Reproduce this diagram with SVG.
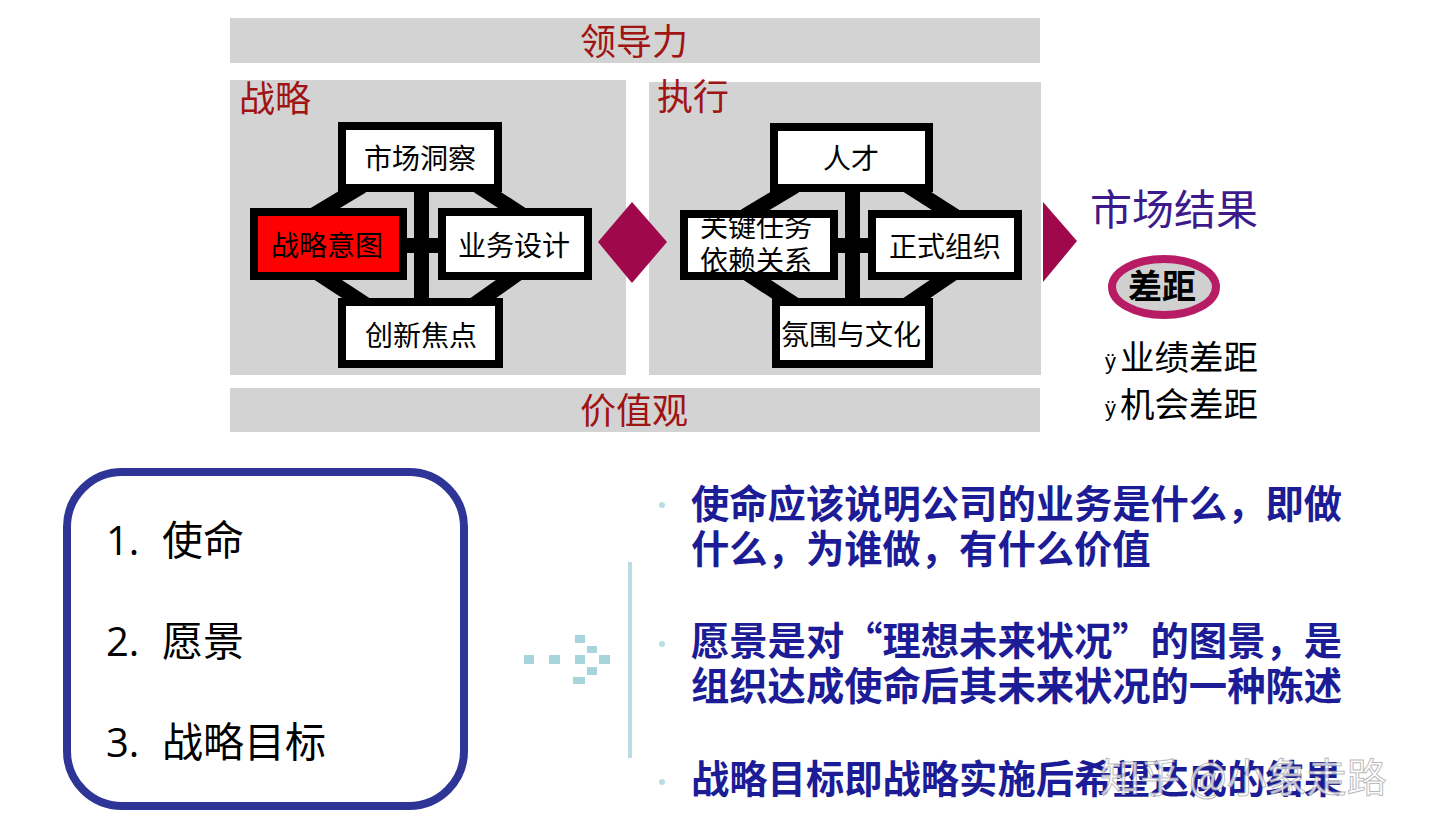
<svg xmlns="http://www.w3.org/2000/svg" width="1440" height="834" viewBox="0 0 1440 834">
<style>
  .cjk { font-family: "Noto Sans CJK SC", "Liberation Sans", sans-serif; }
  .bar { fill: #d3d3d3; }
  .panel { fill: #d3d3d3; }
  .red { fill: #a01414; font-size: 36px; }
  .box { fill: #ffffff; stroke: #000000; stroke-width: 8; }
  .boxred { fill: #ff0000; stroke: #000000; stroke-width: 8; }
  .bl { fill: #000000; font-size: 28px; text-anchor: middle; dominant-baseline: central; }
  .link { stroke: #000000; stroke-width: 15; fill: none; }
  .mag { fill: #a0084c; }
  .dot { fill: #a8d4dc; }
  .bul { fill: #1c1c96; font-size: 38.3px; font-weight: bold; }
  .bdot { fill: #b9dde3; }
  .lst { fill: #000000; font-size: 41px; }
  .num { font-family: "Open Sans", "Liberation Sans", sans-serif; font-size: 40px; fill: #000000; }
</style>
<defs>
  <clipPath id="clipKT"><rect x="688" y="218" width="142" height="54"/></clipPath>
</defs>
<rect width="1440" height="834" fill="#ffffff"/>

<g id="leadership">
  <rect class="bar" x="230" y="18" width="810" height="45"/>
  <text class="cjk red" x="634" y="55" text-anchor="middle">领导力</text>
</g>
<g id="values">
  <rect class="bar" x="230" y="388" width="810" height="44"/>
  <text class="cjk red" x="634" y="424" text-anchor="middle">价值观</text>
</g>

<g id="strategy-panel">
  <rect class="panel" x="230" y="80" width="396" height="295"/>
  <text class="cjk red" x="239" y="112">战略</text>
</g>
<g id="execution-panel">
  <rect class="panel" x="649" y="82" width="392" height="293"/>
  <text class="cjk red" x="657" y="110">执行</text>
</g>

<g id="connectors">
  <rect x="414" y="188" width="15" height="116" fill="#000"/>
  <rect x="405" y="238" width="35" height="15" fill="#000"/>
  <line class="link" x1="362" y1="186" x2="312" y2="216"/>
  <line class="link" x1="478" y1="186" x2="524" y2="216"/>
  <line class="link" x1="316" y1="272" x2="368" y2="306"/>
  <line class="link" x1="520" y1="272" x2="472" y2="306"/>
  <rect x="845" y="188" width="15" height="116" fill="#000"/>
  <rect x="836" y="238" width="35" height="15" fill="#000"/>
  <line class="link" x1="795" y1="186" x2="745" y2="216"/>
  <line class="link" x1="908" y1="186" x2="955" y2="216"/>
  <line class="link" x1="745" y1="272" x2="797" y2="306"/>
  <line class="link" x1="955" y1="272" x2="905" y2="306"/>
  <polygon class="mag" points="632,202 667,242 632,283 598,242"/>
  <polygon class="mag" points="1043,202 1077,241 1043,282"/>
  <rect class="dot" x="524" y="655" width="10" height="9"/>
  <rect class="dot" x="549" y="655" width="11" height="9"/>
  <rect class="dot" x="575" y="655" width="10" height="9"/>
  <rect class="dot" x="599" y="655" width="11" height="9"/>
  <rect class="dot" x="575" y="635" width="10" height="8"/>
  <rect class="dot" x="587" y="646" width="10" height="7"/>
  <rect class="dot" x="587" y="667" width="10" height="8"/>
  <rect class="dot" x="573" y="677" width="12" height="7"/>
  <rect x="628" y="562" width="4" height="196" fill="#b9dde3"/>
</g>

<g id="market-insight">
  <rect class="box" x="342" y="126" width="156" height="62"/>
  <text class="cjk bl" x="420" y="157">市场洞察</text>
</g>
<g id="strategic-intent">
  <rect class="boxred" x="254" y="212" width="149" height="64"/>
  <text class="cjk bl" x="327" y="244">战略意图</text>
</g>
<g id="business-design">
  <rect class="box" x="442" y="212" width="146" height="64"/>
  <text class="cjk bl" x="514" y="244">业务设计</text>
</g>
<g id="innovation-focus">
  <rect class="box" x="342" y="302" width="157" height="62"/>
  <text class="cjk bl" x="421" y="334">创新焦点</text>
</g>

<g id="talent">
  <rect class="box" x="774" y="127" width="155" height="61"/>
  <text class="cjk bl" x="851" y="157">人才</text>
</g>
<g id="key-tasks">
  <rect class="box" x="684" y="214" width="150" height="62"/>
  <g clip-path="url(#clipKT)">
    <text class="cjk" x="756" y="237" font-size="28" text-anchor="middle" fill="#000">关键任务</text>
    <text class="cjk" x="756" y="271" font-size="28" text-anchor="middle" fill="#000">依赖关系</text>
  </g>
</g>
<g id="formal-org">
  <rect class="box" x="872" y="214" width="146" height="62"/>
  <text class="cjk bl" x="945" y="245">正式组织</text>
</g>
<g id="climate-culture">
  <rect class="box" x="776" y="302" width="153" height="62"/>
  <text class="cjk bl" x="851" y="333">氛围与文化</text>
</g>

<g id="market-results">
  <text class="cjk" x="1090" y="225" font-size="42" fill="#3d1a8c">市场结果</text>
  <ellipse cx="1164" cy="287" rx="52" ry="28" fill="#d0d0d0" stroke="#b81c64" stroke-width="8"/>
  <text class="cjk" x="1162" y="299" font-size="34" font-weight="bold" text-anchor="middle" fill="#000">差距</text>
  <text x="1105" y="369" font-size="22" font-family="Liberation Sans, sans-serif" fill="#000">ÿ</text>
  <text class="cjk" x="1120" y="370" font-size="34.5" fill="#000">业绩差距</text>
  <text x="1105" y="416" font-size="22" font-family="Liberation Sans, sans-serif" fill="#000">ÿ</text>
  <text class="cjk" x="1120" y="417" font-size="34.5" fill="#000">机会差距</text>
</g>

<g id="list-box">
  <rect x="67" y="472" width="397" height="334" rx="55" ry="55" fill="#ffffff" stroke="#2e3596" stroke-width="8"/>
  <text class="num" x="106" y="555">1.</text>
  <text class="cjk lst" x="162" y="555">使命</text>
  <text class="num" x="106" y="656">2.</text>
  <text class="cjk lst" x="162" y="656">愿景</text>
  <text class="num" x="106" y="757">3.</text>
  <text class="cjk lst" x="162" y="757">战略目标</text>
</g>

<g id="descriptions">
  <circle class="bdot" cx="662" cy="505" r="3"/>
  <circle class="bdot" cx="662" cy="644" r="3"/>
  <circle class="bdot" cx="662" cy="782" r="3"/>
  <text class="cjk bul" x="691" y="518">使命应该说明公司的业务是什么，即做</text>
  <text class="cjk bul" x="691" y="563">什么，为谁做，有什么价值</text>
  <text class="cjk bul" x="691" y="655">愿景是对“理想未来状况”的图景，是</text>
  <text class="cjk bul" x="691" y="700">组织达成使命后其未来状况的一种陈述</text>
  <text class="cjk bul" x="691" y="793">战略目标即战略实施后希望达成的结果</text>
</g>

<g id="watermark">
  <text class="cjk" x="1100" y="792" font-size="40" fill="#ffffff" fill-opacity="0.75" stroke="#9a9a9a" stroke-opacity="0.7" stroke-width="1">知乎 @小象走路</text>
</g>
</svg>
